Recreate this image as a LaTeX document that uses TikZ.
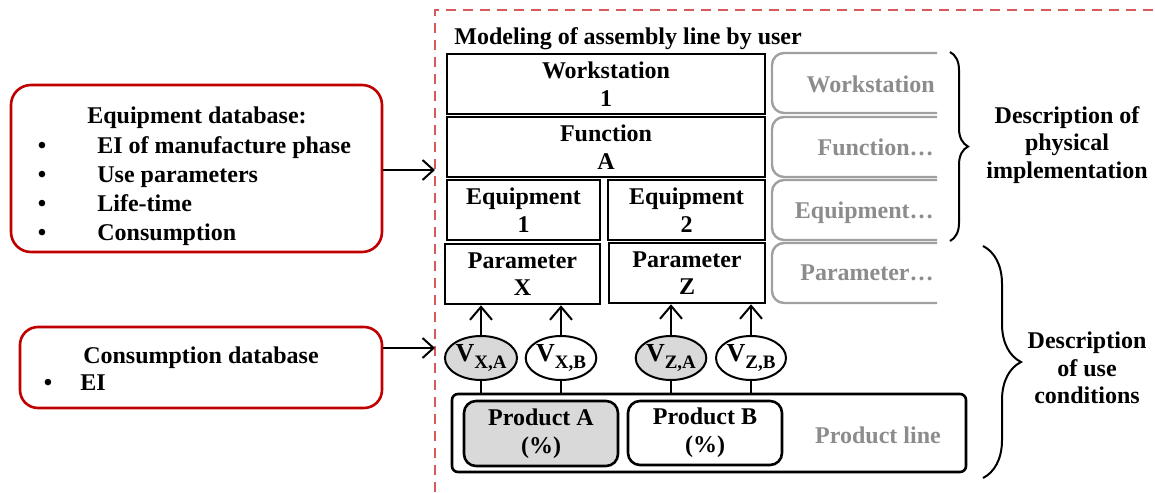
\documentclass[tikz,border=0pt]{standalone}
\usepackage{fontspec}
\setmainfont{Liberation Serif}
\usetikzlibrary{arrows.meta,decorations.pathreplacing,fit,shapes.geometric}
\definecolor{dbred}{HTML}{C00000}
\definecolor{dashred}{HTML}{D65A5C}
\definecolor{ghost}{HTML}{8C8C8C}
\definecolor{ghostline}{HTML}{A0A0A0}
\definecolor{fillgray}{HTML}{D9D9D9}
\newcommand\vlab[1]{{\fontsize{13}{14}\selectfont V}\raisebox{-0.7ex}{\fontsize{9.5}{10}\selectfont #1}}
\begin{document}
\begin{tikzpicture}[x=0.5pt,y=-0.5pt,
  font=\fontsize{12}{13.8}\selectfont\bfseries,
  box/.style={draw, line width=1.3pt, inner sep=0pt, align=center, minimum height=30pt},
  ghostbox/.style={draw=ghostline, line width=1.2pt, rounded corners=6pt, inner sep=0pt},
  ghosttxt/.style={text=ghost, inner sep=0pt, anchor=east, text height=8.5pt, text depth=0pt},
  dbbox/.style={draw=dbred, line width=1.3pt, inner sep=0pt},
  txt/.style={inner sep=0pt, text height=8.5pt, text depth=0pt},
  vell/.style={draw, ellipse, line width=1pt, minimum width=35pt, minimum height=22pt, inner sep=0pt},
  prod/.style={draw, line width=1.3pt, rounded corners=6pt, inner sep=0pt, align=center, minimum width=77pt, minimum height=32.5pt},
  uparr/.style={line width=1pt, -{Straight Barb[length=6.5pt,width=11pt]}},
  sidearr/.style={line width=1pt, -{Straight Barb[length=5.5pt,width=10pt]}},
  plain/.style={line width=1pt},
  dashline/.style={draw=dashred, line width=1pt, dash pattern=on 5pt off 3.5pt},
  bracestyle/.style={line width=1pt, decorate}
]
\useasboundingbox (0,0) rectangle (1155,492);

% dashed frame
\draw[dashline] (435,492) -- (435,10) -- (1155,10);

% title
\node[txt, anchor=west] (title) at (454,36) {Modeling of assembly line by user};

% main boxes
\node[box, minimum width=159pt] (ws) at (606,84) {Workstation\\1};
\node[box, minimum width=159pt] (fn) at (606,147) {Function\\A};
\node[box, minimum width=76.5pt] (eq1) at (523.5,210) {Equipment\\1};
\node[box, minimum width=78.5pt] (eq2) at (686.5,210) {Equipment\\2};
\node[box, minimum width=77.5pt] (px) at (522.5,274) {Parameter\\X};
\node[box, minimum width=78pt] (pz) at (687,273) {Parameter\\Z};

% ghost boxes (clipped on the right)
\begin{scope}
  \clip (760,40) rectangle (937,312);
  \node[ghostbox, fit={(772,53) (1000,113)}] (gws) {};
  \node[ghostbox, fit={(772,117) (1000,177)}] (gfn) {};
  \node[ghostbox, fit={(772,180) (1000,240)}] (geq) {};
  \node[ghostbox, fit={(772,243) (1000,303)}] (gpa) {};
\end{scope}
\node[ghosttxt] (gwst) at (935,84) {Workstation};
\node[ghosttxt] (gfnt) at (934,147) {Function…};
\node[ghosttxt] (geqt) at (934,210) {Equipment…};
\node[ghosttxt] (gpat) at (934,272) {Parameter…};

% product line
\node[draw, line width=1.3pt, rounded corners=3pt, inner sep=0pt, minimum width=257pt, minimum height=39pt] (pl) at (709,433) {};
\node[prod, fill=fillgray] (pa) at (541,433.5) {Product A\\(\%)};
\node[prod, minimum height=32pt] (pb) at (705,433) {Product B\\(\%)};
\node[txt, text=ghost] (plt) at (878,435) {Product line};

% ellipses
\node[vell, fill=fillgray] (vxa) at (481,358) {\vlab{X,A}};
\node[vell] (vxb) at (561,358) {\vlab{X,B}};
\node[vell, fill=fillgray] (vza) at (671,358) {\vlab{Z,A}};
\node[vell] (vzb) at (751,358) {\vlab{Z,B}};

\draw[uparr] (vxa.north) -- (vxa.north |- px.south);
\draw[uparr] (vxb.north) -- (vxb.north |- px.south);
\draw[uparr] (vza.north) -- (vza.north |- pz.south);
\draw[uparr] (vzb.north) -- (vzb.north |- pz.south);
\draw[plain] (vxa.south) -- (vxa.south |- pl.north);
\draw[plain] (vxb.south) -- (vxb.south |- pl.north);
\draw[plain] (vza.south) -- (vza.south |- pl.north);
\draw[plain] (vzb.south) -- (vzb.south |- pl.north);

% braces
\draw[bracestyle, decoration={brace, amplitude=9pt}] (950,52) -- (950,241);
\draw[bracestyle, decoration={brace, amplitude=19pt}] (983,246) -- (983,478);
\node[align=center, inner sep=0pt] (d1) at (1067,145) {Description of\\physical\\implementation};
\node[align=center, inner sep=0pt] (d2) at (1087,368) {Description\\of use\\conditions};

% equipment database
\node[dbbox, rounded corners=10pt, fit={(11,85) (382,252)}] (eqdb) {};
\node[txt] (eqdbt) at (197,115) {Equipment database:};
\node[txt] (b1) at (42,145) {•};
\node[txt] (b2) at (42,174) {•};
\node[txt] (b3) at (42,203) {•};
\node[txt] (b4) at (42,232) {•};
\node[txt, anchor=west] (i1) at (97,145) {EI of manufacture phase};
\node[txt, anchor=west] (i2) at (97,174) {Use parameters};
\node[txt, anchor=west] (i3) at (97,203) {Life-time};
\node[txt, anchor=west] (i4) at (97,232) {Consumption};
\coordinate (a1) at (435,170);
\draw[sidearr] (eqdb.east |- a1) -- (a1);

% consumption database
\node[dbbox, rounded corners=9pt, fit={(20,327) (382,408)}] (cdb) {};
\node[txt] (cdbt) at (201,355) {Consumption database};
\node[txt] (b5) at (48,382) {•};
\node[txt, anchor=west] (i5) at (80,382) {EI};
\coordinate (a2) at (435,348);
\draw[sidearr] (cdb.east |- a2) -- (a2);
\end{tikzpicture}
\end{document}
